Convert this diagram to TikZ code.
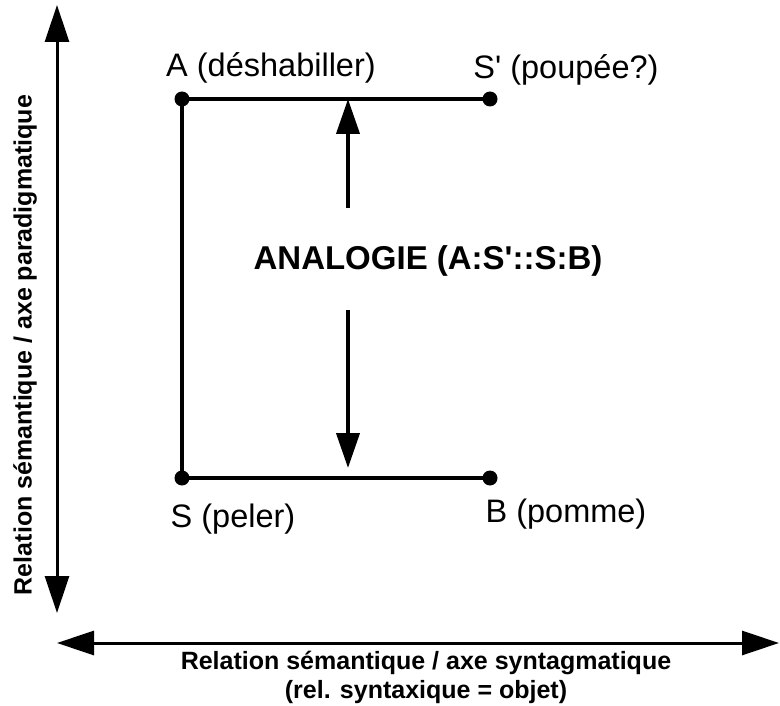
\documentclass[tikz,border=0pt]{standalone}
\usepackage{fontspec}
\setmainfont{Liberation Sans}
\usetikzlibrary{arrows.meta}
\begin{document}
\begin{tikzpicture}[x=1pt,y=-1pt,
  dot/.style={circle,fill=black,inner sep=0pt,minimum size=15pt},
  edge/.style={line width=4pt},
  axis/.style={line width=3pt,{Triangle[length=37pt,width=24pt]}-{Triangle[length=37pt,width=24pt]}},
  midarrow/.style={line width=4pt,-{Triangle[length=35pt,width=23pt]}},
  lbl/.style={font=\fontsize{32.5}{36}\selectfont,inner sep=0pt},
  axlbl/.style={font=\fontsize{25}{29}\selectfont\bfseries,inner sep=0pt,align=center}]
\useasboundingbox (0,0) rectangle (780,706);
% axes
\coordinate (vt) at (57,5);
\coordinate (vb) at (57,613);
\coordinate (hl) at (57,643);
\coordinate (hr) at (779,643);
\draw[axis] (vb) -- (vt);
\draw[axis] (hl) -- (hr);
% points
\node[dot] (A) at (182,99) {};
\node[dot] (Sp) at (490,99) {};
\node[dot] (S) at (182,478) {};
\node[dot] (B) at (490,478) {};
\draw[edge] (Sp.center) -- (A.center) -- (S.center) -- (B.center);
% middle arrows
\coordinate (u1) at (348,208);
\coordinate (u2) at (348,99);
\coordinate (d1) at (348,310);
\coordinate (d2) at (348,468);
\draw[midarrow] (u1) -- (u2);
\draw[midarrow] (d1) -- (d2);
% labels
\node[lbl] (tA) at (271,68) {A (déshabiller)};
\node[lbl] (tSp) at (566,70) {S\textquotesingle{} (poupée?)};
\node[lbl] (tS) at (233,519) {S (peler)};
\node[lbl] (tB) at (566,514) {B (pomme)};
\node[lbl,font=\fontsize{33}{36}\selectfont\bfseries] (tAn) at (428,261) {ANALOGIE (A:S\textquotesingle::S:B)};
\node[axlbl,rotate=90] (tV) at (25,345) {Relation sémantique / axe paradigmatique};
\node[axlbl] (tH) at (426,677) {Relation sémantique / axe syntagmatique\\(rel. syntaxique = objet)};
\end{tikzpicture}
\end{document}
